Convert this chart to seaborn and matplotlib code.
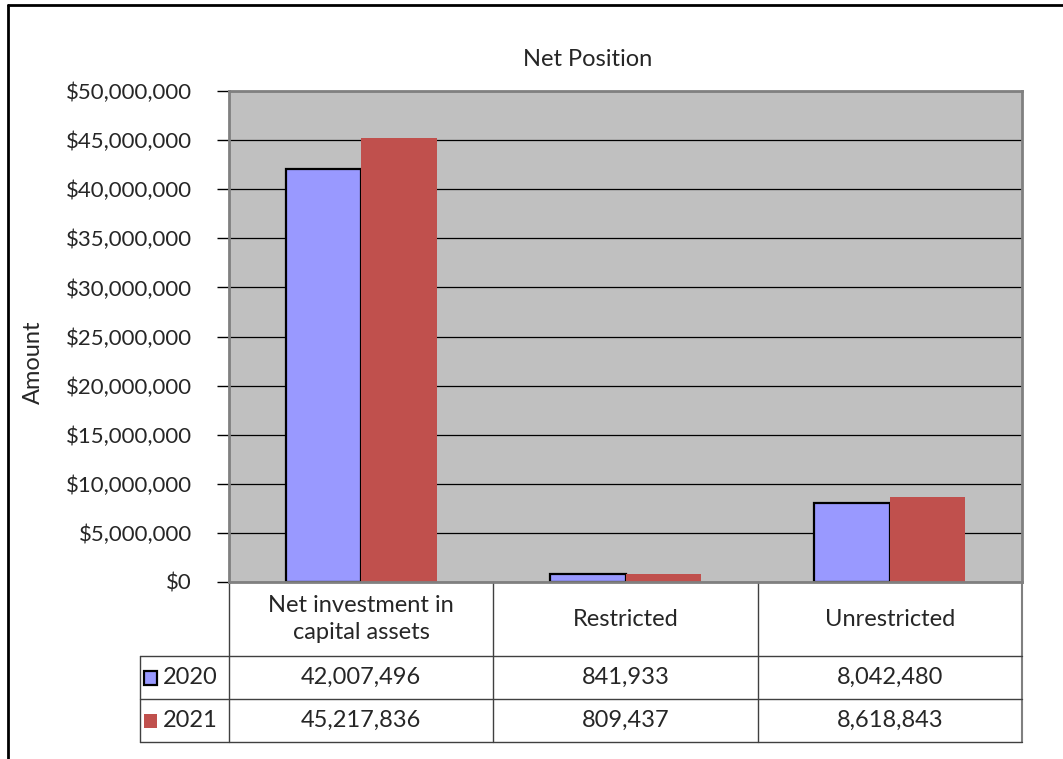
import pandas as pd
import numpy as np
import matplotlib.pyplot as plt
import matplotlib.transforms as mtransforms
from matplotlib.lines import Line2D
from matplotlib.patches import Rectangle
from matplotlib.ticker import FuncFormatter, MultipleLocator
import seaborn as sns

categories = ["Net investment in\ncapital assets", "Restricted", "Unrestricted"]
years = ["2020", "2021"]
values_2020 = [42007496, 841933, 8042480]
values_2021 = [45217836, 809437, 8618843]
colors = ["#9999FF", "#C0504D"]

df = pd.DataFrame({
    "category": categories * 2,
    "year": [years[0]] * 3 + [years[1]] * 3,
    "value": values_2020 + values_2021,
})

sns.set_style("white")
plt.rcParams["font.family"] = ["Lato", "DejaVu Sans"]
FS = 17

fig = plt.figure(figsize=(10.63, 7.59), dpi=100)
W, H = 1063, 759
ax = fig.add_axes([229 / W, (H - 582) / H, (1022 - 229) / W, (582 - 91) / H])
ax.set_facecolor("#C0C0C0")

sns.barplot(data=df, x="category", y="value", hue="year", palette=colors,
            width=0.57, gap=0, ax=ax, legend=False, saturation=1)

# 2020 bars have black outline, 2021 none
for p in ax.containers[0]:
    p.set_edgecolor("black")
    p.set_linewidth(1.6)
for p in ax.containers[1]:
    p.set_edgecolor("none")

ax.set_ylim(0, 50000000)
ax.set_xlim(-0.5, 2.5)
ax.yaxis.set_major_locator(MultipleLocator(5000000))
ax.yaxis.set_major_formatter(FuncFormatter(lambda v, pos: f"${v:,.0f}"))
ax.grid(axis="y", color="black", linewidth=0.9)
ax.set_axisbelow(True)
ax.tick_params(axis="y", direction="out", length=8.6, width=1, color="black",
               labelsize=16, pad=18, left=True)
ax.set_xticks([])
ax.set_xlabel("")
ax.set_ylabel("")
for s in ax.spines.values():
    s.set_visible(True)
    s.set_color("#808080")
    s.set_linewidth(2)

# data table under the plot
tr = mtransforms.blended_transform_factory(ax.transData, ax.transAxes)
px = 3 / (1022 - 229)   # data units per pixel in x
py = 1 / (582 - 91)     # axes fraction per pixel in y
x_left = -0.5 - 89 * px
y_head = -74 * py
y_r1 = -117 * py
y_r2 = -160 * py
lc = "#404040"

def line(xs, ys, color=lc, lw=1.0):
    ax.add_line(Line2D(xs, ys, transform=tr, color=color, lw=lw, clip_on=False))

for xv in [-0.5, 0.5, 1.5]:
    line([xv, xv], [0, y_r2])
line([2.5, 2.5], [0, y_r2], color="#808080", lw=1.5)
line([x_left, x_left], [y_head, y_r2])
for yv in [y_head, y_r1, y_r2]:
    line([x_left, 2.5], [yv, yv])

for i, cat in enumerate(categories):
    ax.text(i, y_head / 2, cat, transform=tr, ha="center", va="center",
            fontsize=FS, linespacing=1.3)
    ax.text(i, (y_head + y_r1) / 2, f"{values_2020[i]:,}", transform=tr,
            ha="center", va="center", fontsize=FS)
    ax.text(i, (y_r1 + y_r2) / 2, f"{values_2021[i]:,}", transform=tr,
            ha="center", va="center", fontsize=FS)

# legend keys inside the table
rows = [(y_head, y_r1), (y_r1, y_r2)]
for k, (yt, yb) in enumerate(rows):
    yc = (yt + yb) / 2
    ec = "black" if k == 0 else colors[k]
    ax.add_patch(Rectangle((x_left + 4 * px, yc - 7 * py), 13 * px, 14 * py,
                           transform=tr, facecolor=colors[k], edgecolor=ec,
                           lw=1.6 if k == 0 else 0, clip_on=False))
    ax.text(x_left + 23 * px, yc, years[k], transform=tr, ha="left",
            va="center", fontsize=FS)

# title, axis label, chart frame
fig.text(588 / W, 1 - 60 / H, "Net Position", ha="center", va="center", fontsize=FS)
fig.text(33 / W, 1 - 362 / H, "Amount", ha="center", va="center",
         rotation=90, fontsize=FS)
fig.add_artist(Line2D([8 / W, 8 / W], [0, 1 - 5 / H], color="black", lw=2))
fig.add_artist(Line2D([8 / W, 1], [1 - 5 / H, 1 - 5 / H], color="black", lw=2))

fig.savefig("out.png", dpi=100)
